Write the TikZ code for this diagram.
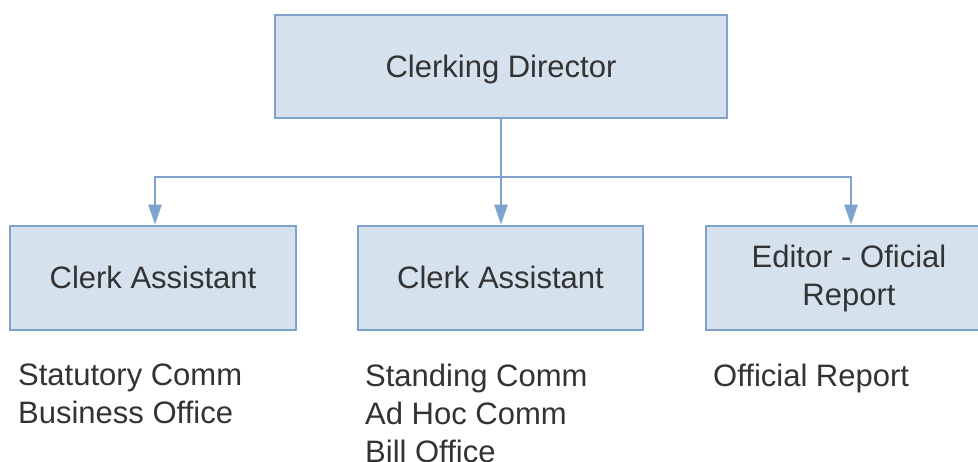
\documentclass[tikz,border=0pt]{standalone}
\usepackage{fontspec}
\setmainfont{Liberation Sans}
\usetikzlibrary{arrows.meta}
\definecolor{boxfill}{HTML}{D6E1EE}
\definecolor{boxline}{HTML}{7DA2CD}
\definecolor{ink}{HTML}{333333}
\begin{document}
\begin{tikzpicture}[x=1pt,y=-1pt,
  orgbox/.style={draw=boxline,fill=boxfill,line width=2.8pt,text=ink,
    font=\fontsize{31}{38}\selectfont,align=center,inner sep=0pt},
  oneline/.style={text height=22pt,text depth=0pt},
  link/.style={draw=boxline,line width=2.8pt},
  tip/.style={-{Triangle[length=20pt,width=13pt]}},
  note/.style={text=ink,font=\fontsize{31}{38}\selectfont,align=left,
    anchor=north west,inner sep=0pt}]
  \useasboundingbox (0,0) rectangle (978,462);
  % boxes
  \node[orgbox,oneline,minimum width=452pt,minimum height=103pt] (dir) at (501,66.5) {Clerking Director};
  \node[orgbox,oneline,minimum width=286pt,minimum height=104pt] (ca1) at (153,278) {Clerk Assistant};
  \node[orgbox,oneline,minimum width=285pt,minimum height=104pt] (ca2) at (500.5,278) {Clerk Assistant};
  \node[orgbox,minimum width=286pt,minimum height=104pt] (ed) at (849,278) {Editor - Oficial\\Report};
  % connectors
  \coordinate (bus) at (501,177);
  \draw[link] (dir.south) -- (bus);
  \draw[link,tip] (bus) -| ([xshift=2pt]ca1.north);
  \draw[link,tip] (bus) -| ([xshift=2pt]ed.north);
  \draw[link,tip] (bus) -- (ca2.north -| bus);
  % notes
  \node[note] (n1) at (18,364) {Statutory Comm\\Business Office};
  \node[note] (n2) at (365,364) {Standing Comm\\Ad Hoc Comm\\Bill Office};
  \node[note] (n3) at (713,364) {Official Report};
\end{tikzpicture}
\end{document}
